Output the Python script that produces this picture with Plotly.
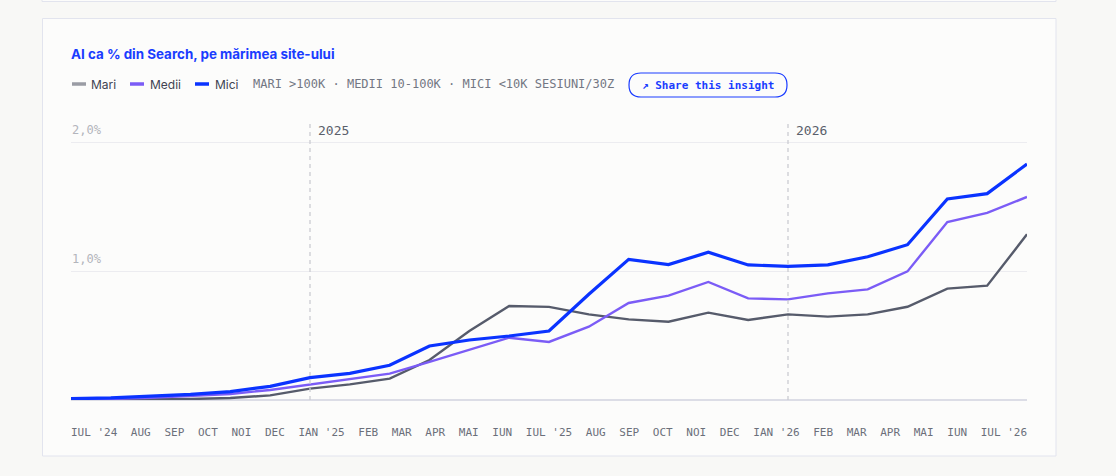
import plotly.graph_objects as go

# ---------------- data ----------------
months = ["IUL '24", "AUG", "SEP", "OCT", "NOI", "DEC", "IAN '25", "FEB", "MAR", "APR",
          "MAI", "IUN", "IUL '25", "AUG", "SEP", "OCT", "NOI", "DEC", "IAN '26", "FEB",
          "MAR", "APR", "MAI", "IUN", "IUL '26"]
mari = [0.00, 0.002, 0.005, 0.008, 0.015, 0.036, 0.088, 0.121, 0.165, 0.31, 0.535, 0.729,
        0.722, 0.664, 0.625, 0.607, 0.677, 0.62, 0.664, 0.646, 0.664, 0.723, 0.863, 0.886, 1.284]
medii = [0.004, 0.008, 0.018, 0.03, 0.047, 0.078, 0.119, 0.163, 0.204, 0.295, 0.39, 0.483,
         0.45, 0.568, 0.752, 0.809, 0.915, 0.788, 0.78, 0.827, 0.858, 0.997, 1.38, 1.45, 1.574]
mici = [0.01, 0.016, 0.03, 0.044, 0.065, 0.106, 0.173, 0.207, 0.269, 0.419, 0.465, 0.496,
        0.535, 0.82, 1.09, 1.05, 1.145, 1.047, 1.036, 1.047, 1.11, 1.204, 1.558, 1.60, 1.83]
series_names = ["Mari", "Medii", "Mici"]
year_marks = [6, 18]
year_labels = ["2025", "2026"]
y_ticks = [1.0, 2.0]
y_tick_labels = ["1,0%", "2,0%"]

# ---------------- style ----------------
W, H = 1116, 476
L, R, T, B = 71, 1027, 120, 400          # plot area in pixels
PW, PH = R - L, B - T
SANS = "Inter"
MONO = "DejaVu Sans Mono"
C_MARI, C_MEDII, C_MICI = "#565b6b", "#7b5cf6", "#0a33ff"
BLUE = "#1a3cff"


def px(x):
    return (x - L) / PW


def py(y):
    return (B - y) / PH


n = len(months)
xs = list(range(n))

fig = go.Figure()
for name, vals, col, w in [("Mari", mari, C_MARI, 2.4), ("Medii", medii, C_MEDII, 2.4),
                           ("Mici", mici, C_MICI, 3.2)]:
    fig.add_trace(go.Scatter(x=xs, y=vals, mode="lines", name=name,
                             line=dict(color=col, width=w), showlegend=False,
                             hovertemplate="%{y:.2f}%<extra>" + name + "</extra>"))

# x tick labels laid out like a space-between flex row
TICK_FS = 11
char_w = 0.6 * TICK_FS
widths = [len(m) * char_w for m in months]
gap = (PW - sum(widths)) / (n - 1)
unit = PW / (n - 1)
tickvals = []
pos = 0.0
for wdt in widths:
    tickvals.append((pos + wdt / 2) / unit)
    pos += wdt + gap

shapes = []
annotations = []

# card backgrounds
shapes.append(dict(type="rect", xref="paper", yref="paper", x0=px(42), x1=px(1056),
                   y0=py(-30), y1=py(1.5), fillcolor="#fcfcfb",
                   line=dict(color="#e2e4ee", width=1), layer="below"))
shapes.append(dict(type="rect", xref="paper", yref="paper", x0=px(42.5), x1=px(1056),
                   y0=py(456), y1=py(18.5), fillcolor="#fcfcfb",
                   line=dict(color="#e2e4ee", width=1), layer="below"))

# y labels (above gridlines, left)
for v, lab in zip(y_ticks, y_tick_labels):
    annotations.append(dict(x=0, y=v, xref="paper", yref="y", text=lab, showarrow=False,
                            xanchor="left", yanchor="bottom", yshift=3, xshift=-1,
                            font=dict(family=MONO, size=12, color="#b3b5bc")))

# year separators
for xm, lab in zip(year_marks, year_labels):
    shapes.append(dict(type="line", xref="x", yref="paper", x0=xm, x1=xm, y0=0, y1=1,
                       line=dict(color="#cbccd1", width=1.3, dash="4px,4px")))
    annotations.append(dict(x=xm, y=1, xref="x", yref="paper", text=lab, showarrow=False,
                            xanchor="left", yanchor="middle", xshift=6, yshift=-10,
                            font=dict(family=MONO, size=13, color="#5a5f6b")))

# title
annotations.append(dict(x=px(69), y=py(54), xref="paper", yref="paper",
                        text="<b>AI ca % din Search, pe mărimea site-ului</b>",
                        showarrow=False, xanchor="left", yanchor="middle",
                        font=dict(family=SANS, size=13.4, color=BLUE)))

# legend
leg_y = py(84)
leg = [("Mari", C_MARI, 72, 89), ("Medii", C_MEDII, 130, 148), ("Mici", C_MICI, 195, 213)]
for (name, col, sx, tx) in leg:
    sw_col = "#9a9ca4" if name == "Mari" else col
    shapes.append(dict(type="line", xref="paper", yref="paper", x0=px(sx), x1=px(sx + 14),
                       y0=leg_y, y1=leg_y, line=dict(color=sw_col, width=3.5)))
    annotations.append(dict(x=px(tx), y=leg_y, xref="paper", yref="paper", text=name,
                            showarrow=False, xanchor="left", yanchor="middle",
                            font=dict(family=SANS, size=12, color="#3f4452")))
annotations.append(dict(x=px(251), y=leg_y, xref="paper", yref="paper",
                        text="MARI >100K · MEDII 10-100K · MICI <10K SESIUNI/30Z",
                        showarrow=False, xanchor="left", yanchor="middle",
                        font=dict(family=MONO, size=12, color="#737783")))

# share button (rounded rect)
bx0, bx1, by0, by1, r = 629, 787, 73, 97, 12
path = (f"M {px(bx0 + r)},{py(by0)} L {px(bx1 - r)},{py(by0)} "
        f"Q {px(bx1)},{py(by0)} {px(bx1)},{py(by0 + r)} "
        f"Q {px(bx1)},{py(by1)} {px(bx1 - r)},{py(by1)} "
        f"L {px(bx0 + r)},{py(by1)} "
        f"Q {px(bx0)},{py(by1)} {px(bx0)},{py(by1 - r)} "
        f"Q {px(bx0)},{py(by0)} {px(bx0 + r)},{py(by0)} Z")
shapes.append(dict(type="path", xref="paper", yref="paper", path=path,
                   fillcolor="rgba(0,0,0,0)", line=dict(color=BLUE, width=1.2)))
annotations.append(dict(x=px((bx0 + bx1) / 2), y=py((by0 + by1) / 2), xref="paper",
                        yref="paper", text="<b>↗ Share this insight</b>", showarrow=False,
                        xanchor="center", yanchor="middle",
                        font=dict(family=MONO, size=11, color=BLUE)))

fig.update_layout(
    width=W, height=H,
    margin=dict(l=L, r=W - R, t=T, b=H - B, pad=0),
    paper_bgcolor="#f8f8f6", plot_bgcolor="rgba(0,0,0,0)",
    shapes=shapes, annotations=annotations,
    xaxis=dict(range=[0, n - 1], showgrid=False, zeroline=False, showline=False,
               tickmode="array", tickvals=tickvals, ticktext=months,
               ticks="outside", ticklen=22, tickcolor="rgba(0,0,0,0)",
               tickfont=dict(family=MONO, size=TICK_FS, color="#6b6f7a"),
               fixedrange=True),
    yaxis=dict(range=[0, (B - T) / 129.0], showgrid=True, gridcolor="#ececf0", gridwidth=1,
               zeroline=True, zerolinecolor="#dcdde6", zerolinewidth=1.5,
               showline=False, tickmode="array", tickvals=y_ticks, showticklabels=False,
               ticks="", fixedrange=True),
    hovermode="x unified",
)

fig.write_html("out.html", config={"displayModeBar": False},
               post_script="document.body.style.margin='0';document.body.style.overflow='hidden';")
